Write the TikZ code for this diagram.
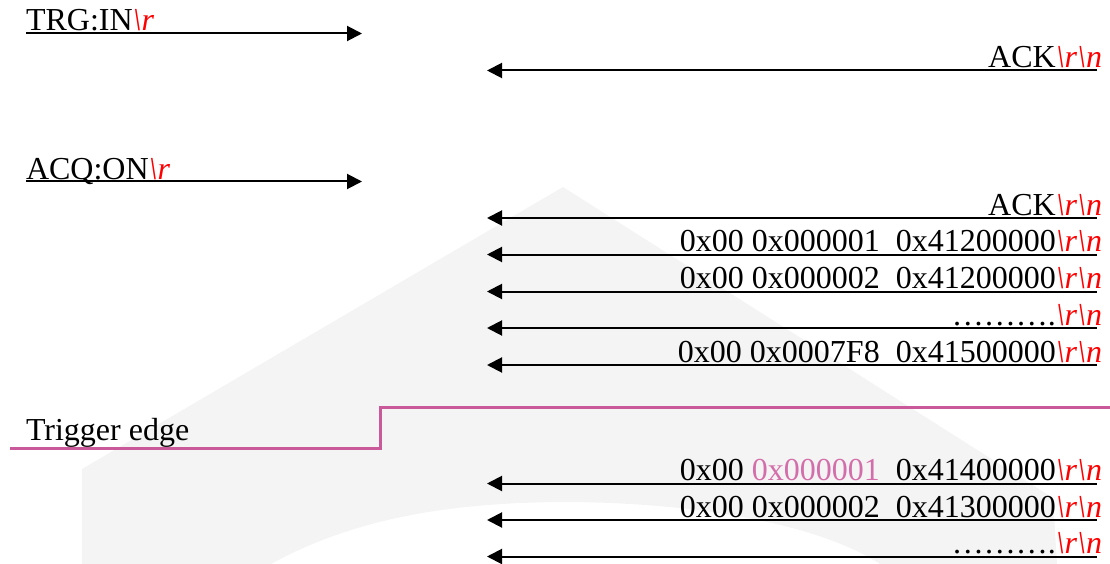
\documentclass[tikz,border=0pt]{standalone}
\usepackage{fontspec}
\setmainfont{Liberation Serif}
\usetikzlibrary{arrows.meta}
\definecolor{crlf}{RGB}{255,0,0}
\definecolor{trig}{RGB}{201,89,152}
\definecolor{trigtext}{RGB}{212,110,170}
\definecolor{wm}{RGB}{244,244,244}
\newcommand{\myr}{\textcolor{crlf}{\itshape\textbackslash r}}
\newcommand{\myrn}{\textcolor{crlf}{\itshape\textbackslash r\textbackslash n}}
\begin{document}
\begin{tikzpicture}[x=1pt,y=-1pt,
  msg/.style={inner sep=0pt,outer sep=0pt,font=\fontsize{32}{38}\selectfont},
  sig/.style={line width=2pt,-{Triangle[length=15pt,width=15pt]}},
  trigline/.style={trig,line width=3pt},
  wmark/.style={fill=wm,draw=none}]
\useasboundingbox (0,0) rectangle (1110,564);
% faint watermark
\fill[wmark] (563,187) -- (82,469) -- (82,564) -- (271,564)
  .. controls (360,515) and (460,503) .. (560,502)
  .. controls (700,502) and (820,525) .. (880,564)
  -- (1057,564) -- (1053,498) -- cycle;

% TRG:IN
\node[msg,anchor=base west] (trg) at (26,30.5) {TRG:IN\myr};
\coordinate (trgS) at (26,33.5);
\coordinate (trgE) at (362,33.5);
\draw[sig] (trgS) -- (trgE);

% ACK 1
\node[msg,anchor=base east] (ack1) at (1102,67.5) {ACK\myrn};
\coordinate (ack1S) at (1097,70.5);
\coordinate (ack1E) at (487,70.5);
\draw[sig] (ack1S) -- (ack1E);

% ACQ:ON
\node[msg,anchor=base west] (acq) at (26,179) {ACQ:ON\myr};
\coordinate (acqS) at (26,181.5);
\coordinate (acqE) at (362,181.5);
\draw[sig] (acqS) -- (acqE);

% ACK 2
\node[msg,anchor=base east] (ack2) at (1102,215) {ACK\myrn};
\coordinate (ack2S) at (1097,218);
\coordinate (ack2E) at (487,218);
\draw[sig] (ack2S) -- (ack2E);

% data rows
\node[msg,anchor=base east] (d1) at (1102,251.5) {0x00 0x000001\ \ 0x41200000\myrn};
\coordinate (d1S) at (1097,254.5);
\coordinate (d1E) at (487,254.5);
\draw[sig] (d1S) -- (d1E);

\node[msg,anchor=base east] (d2) at (1102,288.5) {0x00 0x000002\ \ 0x41200000\myrn};
\coordinate (d2S) at (1097,291.5);
\coordinate (d2E) at (487,291.5);
\draw[sig] (d2S) -- (d2E);

\node[msg,anchor=base east] (d3) at (1102,325) {………\kern0pt.\myrn};
\coordinate (d3S) at (1097,328);
\coordinate (d3E) at (487,328);
\draw[sig] (d3S) -- (d3E);

\node[msg,anchor=base east] (d4) at (1102,362) {0x00 0x0007F8\ \ 0x41500000\myrn};
\coordinate (d4S) at (1097,365);
\coordinate (d4E) at (487,365);
\draw[sig] (d4S) -- (d4E);

% trigger edge
\node[msg,anchor=base west] (tlabel) at (26,440) {Trigger edge};
\coordinate (t0) at (10,448.5);
\coordinate (t1) at (380,448.5);
\coordinate (t2) at (1110,407.5);
\draw[trigline] (t0) -- (t1) |- (t2);

% after trigger
\node[msg,anchor=base east] (e1) at (1102,480.5) {0x00 \textcolor{trigtext}{0x000001}\ \ 0x41400000\myrn};
\coordinate (e1S) at (1097,483.5);
\coordinate (e1E) at (487,483.5);
\draw[sig] (e1S) -- (e1E);

\node[msg,anchor=base east] (e2) at (1102,517) {0x00 0x000002\ \ 0x41300000\myrn};
\coordinate (e2S) at (1097,520);
\coordinate (e2E) at (487,520);
\draw[sig] (e2S) -- (e2E);

\node[msg,anchor=base east] (e3) at (1102,553.5) {………\kern0pt.\myrn};
\coordinate (e3S) at (1097,556.5);
\coordinate (e3E) at (487,556.5);
\draw[sig] (e3S) -- (e3E);
\end{tikzpicture}
\end{document}
